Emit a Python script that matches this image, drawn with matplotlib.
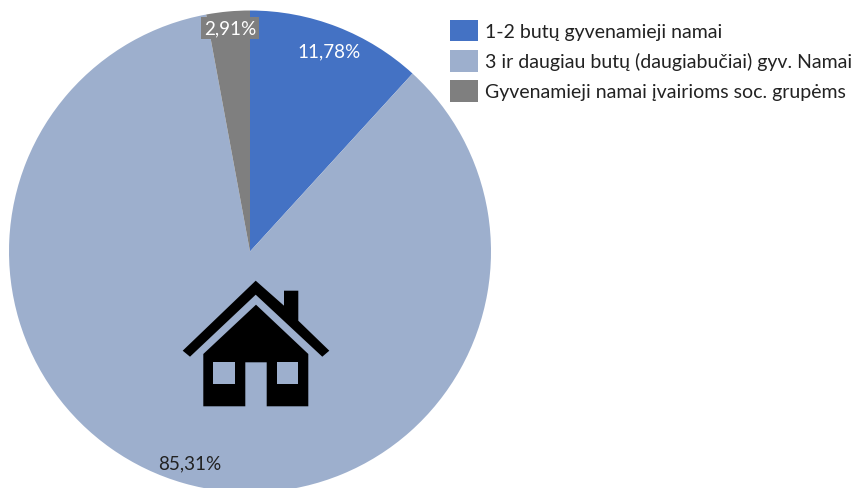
import matplotlib
matplotlib.use('Agg')
import matplotlib.pyplot as plt
from matplotlib.patches import Polygon, Rectangle

W, H = 853, 489

labels = ['1-2 butų gyvenamieji namai',
          '3 ir daugiau butų (daugiabučiai) gyv. Namai',
          'Gyvenamieji namai įvairioms soc. grupėms']
shares = [11.78, 85.31, 2.91]
share_text = ['11,78%', '85,31%', '2,91%']
colors = ['#4472C4', '#9DAFCD', '#7F7F7F']

plt.rcParams['font.family'] = ['Lato', 'DejaVu Sans']


def flip(pts):
    # the points below were read in picture pixels, y from the top
    return [(x, H - y) for x, y in pts]


# axes in pixels
fig = plt.figure(figsize=(W / 100, H / 100), dpi=100)
ax = fig.add_axes([0, 0, 1, 1])
wedges, _ = ax.pie(shares, colors=colors, startangle=90, counterclock=False,
                   radius=241, center=(250, H - 252.5))
ax.set_xlim(0, W)
ax.set_ylim(0, H)
ax.axis('off')

# percent labels
ax.text(329, H - 52, share_text[0], color='white', fontsize=13.6, ha='center', va='center')
ax.text(190, H - 464, share_text[1], color='#222222', fontsize=13.6, ha='center', va='center')
ax.add_patch(Rectangle((201, H - 40), 58, 22, color=colors[2], lw=0, zorder=3))
ax.text(230, H - 29, share_text[2], color='white', fontsize=13.6, ha='center', va='center', zorder=4)

# house icon
roof = [(255.7, 281.7), (284, 306.7), (284, 291.7), (298.3, 291.7), (298.3, 321.7),
        (329.3, 351.7), (322.3, 357.7), (255.7, 295.7), (190, 357.7), (182.7, 351.7)]
body = [(256, 305.7), (308.3, 355), (308.3, 407.3), (266.7, 407.3), (266.7, 363.3),
        (245.3, 363.3), (245.3, 407.3), (203.3, 407.3), (203.3, 355)]
ax.add_patch(Polygon(flip(roof), color='black', lw=0, zorder=3))
ax.add_patch(Polygon(flip(body), color='black', lw=0, zorder=3))
for x0 in [213.3, 276.7]:
    ax.add_patch(Rectangle((x0, H - 385), 21.7, 21.7, color=colors[1], lw=0, zorder=4))

ax.legend(wedges, labels, loc='upper left', bbox_to_anchor=(450, H - 20.5),
          bbox_transform=ax.transData, frameon=False, fontsize=14, borderpad=0,
          borderaxespad=0, handlelength=1.44, handleheight=1.36, handletextpad=0.36,
          labelspacing=0.42, labelcolor='#222222')

fig.savefig('out.png', dpi=100)
